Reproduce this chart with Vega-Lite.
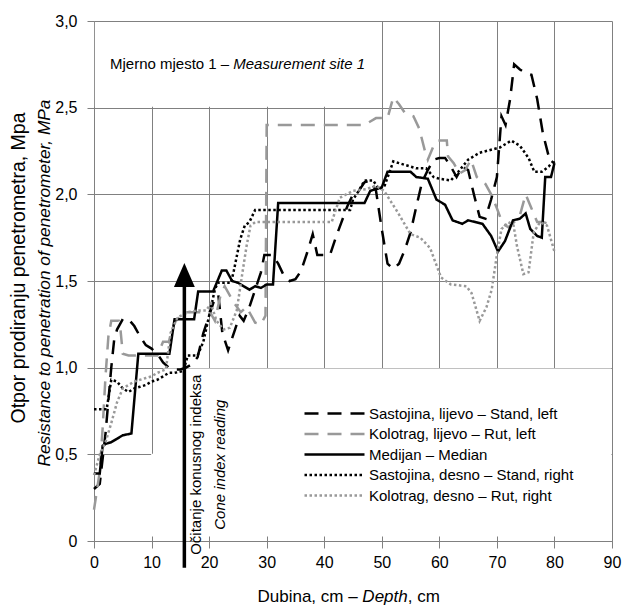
{
  "$schema": "https://vega.github.io/schema/vega-lite/v6.json",
  "width": 518,
  "height": 520,
  "autosize": {"type": "none"},
  "padding": {"left": 94, "top": 21, "right": 11, "bottom": 65},
  "background": "white",
  "config": {"font": "Liberation Sans", "view": {"stroke": null}},
  "datasets": {
    "curves": [
      {"s":"Sastojina, lijevo – Stand, left","x":0,"y":0.3},{"s":"Sastojina, lijevo – Stand, left","x":1,"y":0.33},{"s":"Sastojina, lijevo – Stand, left","x":2,"y":0.62},{"s":"Sastojina, lijevo – Stand, left","x":3,"y":1.0},{"s":"Sastojina, lijevo – Stand, left","x":3.5,"y":1.16},{"s":"Sastojina, lijevo – Stand, left","x":4,"y":1.22},{"s":"Sastojina, lijevo – Stand, left","x":5,"y":1.28},{"s":"Sastojina, lijevo – Stand, left","x":6,"y":1.28},{"s":"Sastojina, lijevo – Stand, left","x":7,"y":1.24},{"s":"Sastojina, lijevo – Stand, left","x":8,"y":1.18},{"s":"Sastojina, lijevo – Stand, left","x":9,"y":1.13},{"s":"Sastojina, lijevo – Stand, left","x":10,"y":1.11},{"s":"Sastojina, lijevo – Stand, left","x":11,"y":1.08},{"s":"Sastojina, lijevo – Stand, left","x":12,"y":1.03},{"s":"Sastojina, lijevo – Stand, left","x":13,"y":1.0},{"s":"Sastojina, lijevo – Stand, left","x":14,"y":0.99},{"s":"Sastojina, lijevo – Stand, left","x":15,"y":0.99},{"s":"Sastojina, lijevo – Stand, left","x":16,"y":1.0},{"s":"Sastojina, lijevo – Stand, left","x":17,"y":1.02},{"s":"Sastojina, lijevo – Stand, left","x":18,"y":1.06},{"s":"Sastojina, lijevo – Stand, left","x":19,"y":1.2},{"s":"Sastojina, lijevo – Stand, left","x":20,"y":1.3},{"s":"Sastojina, lijevo – Stand, left","x":21,"y":1.4},{"s":"Sastojina, lijevo – Stand, left","x":21.6,"y":1.42},{"s":"Sastojina, lijevo – Stand, left","x":22.3,"y":1.2},{"s":"Sastojina, lijevo – Stand, left","x":23.3,"y":1.1},{"s":"Sastojina, lijevo – Stand, left","x":24.5,"y":1.22},{"s":"Sastojina, lijevo – Stand, left","x":25.3,"y":1.3},{"s":"Sastojina, lijevo – Stand, left","x":26,"y":1.27},{"s":"Sastojina, lijevo – Stand, left","x":27,"y":1.35},{"s":"Sastojina, lijevo – Stand, left","x":28,"y":1.45},{"s":"Sastojina, lijevo – Stand, left","x":29,"y":1.55},{"s":"Sastojina, lijevo – Stand, left","x":29.6,"y":1.65},{"s":"Sastojina, lijevo – Stand, left","x":31,"y":1.65},{"s":"Sastojina, lijevo – Stand, left","x":32,"y":1.6},{"s":"Sastojina, lijevo – Stand, left","x":33,"y":1.53},{"s":"Sastojina, lijevo – Stand, left","x":34,"y":1.5},{"s":"Sastojina, lijevo – Stand, left","x":35,"y":1.51},{"s":"Sastojina, lijevo – Stand, left","x":36,"y":1.56},{"s":"Sastojina, lijevo – Stand, left","x":37,"y":1.66},{"s":"Sastojina, lijevo – Stand, left","x":38,"y":1.77},{"s":"Sastojina, lijevo – Stand, left","x":38.8,"y":1.65},{"s":"Sastojina, lijevo – Stand, left","x":41,"y":1.65},{"s":"Sastojina, lijevo – Stand, left","x":42,"y":1.75},{"s":"Sastojina, lijevo – Stand, left","x":43,"y":1.84},{"s":"Sastojina, lijevo – Stand, left","x":44,"y":1.93},{"s":"Sastojina, lijevo – Stand, left","x":45,"y":2.0},{"s":"Sastojina, lijevo – Stand, left","x":46,"y":2.02},{"s":"Sastojina, lijevo – Stand, left","x":47,"y":2.07},{"s":"Sastojina, lijevo – Stand, left","x":48,"y":2.08},{"s":"Sastojina, lijevo – Stand, left","x":49,"y":2.02},{"s":"Sastojina, lijevo – Stand, left","x":50,"y":1.8},{"s":"Sastojina, lijevo – Stand, left","x":51,"y":1.6},{"s":"Sastojina, lijevo – Stand, left","x":52,"y":1.57},{"s":"Sastojina, lijevo – Stand, left","x":53,"y":1.6},{"s":"Sastojina, lijevo – Stand, left","x":54,"y":1.68},{"s":"Sastojina, lijevo – Stand, left","x":55,"y":1.78},{"s":"Sastojina, lijevo – Stand, left","x":56,"y":1.93},{"s":"Sastojina, lijevo – Stand, left","x":57,"y":2.07},{"s":"Sastojina, lijevo – Stand, left","x":58,"y":2.14},{"s":"Sastojina, lijevo – Stand, left","x":59,"y":2.2},{"s":"Sastojina, lijevo – Stand, left","x":60,"y":2.21},{"s":"Sastojina, lijevo – Stand, left","x":61,"y":2.21},{"s":"Sastojina, lijevo – Stand, left","x":62,"y":2.16},{"s":"Sastojina, lijevo – Stand, left","x":63,"y":2.1},{"s":"Sastojina, lijevo – Stand, left","x":64,"y":2.16},{"s":"Sastojina, lijevo – Stand, left","x":65,"y":2.14},{"s":"Sastojina, lijevo – Stand, left","x":66,"y":2.0},{"s":"Sastojina, lijevo – Stand, left","x":67,"y":1.87},{"s":"Sastojina, lijevo – Stand, left","x":68,"y":1.86},{"s":"Sastojina, lijevo – Stand, left","x":69,"y":1.97},{"s":"Sastojina, lijevo – Stand, left","x":70,"y":2.1},{"s":"Sastojina, lijevo – Stand, left","x":70.8,"y":2.45},{"s":"Sastojina, lijevo – Stand, left","x":71.5,"y":2.4},{"s":"Sastojina, lijevo – Stand, left","x":72.3,"y":2.55},{"s":"Sastojina, lijevo – Stand, left","x":73,"y":2.75},{"s":"Sastojina, lijevo – Stand, left","x":74,"y":2.72},{"s":"Sastojina, lijevo – Stand, left","x":75,"y":2.7},{"s":"Sastojina, lijevo – Stand, left","x":76,"y":2.69},{"s":"Sastojina, lijevo – Stand, left","x":77,"y":2.55},{"s":"Sastojina, lijevo – Stand, left","x":78,"y":2.35},{"s":"Sastojina, lijevo – Stand, left","x":79,"y":2.22},{"s":"Sastojina, lijevo – Stand, left","x":80,"y":2.18},
      {"s":"Kolotrag, lijevo – Rut, left","x":0,"y":0.18},{"s":"Kolotrag, lijevo – Rut, left","x":1,"y":0.4},{"s":"Kolotrag, lijevo – Rut, left","x":1.5,"y":0.65},{"s":"Kolotrag, lijevo – Rut, left","x":2,"y":0.95},{"s":"Kolotrag, lijevo – Rut, left","x":2.5,"y":1.18},{"s":"Kolotrag, lijevo – Rut, left","x":3,"y":1.27},{"s":"Kolotrag, lijevo – Rut, left","x":4.3,"y":1.27},{"s":"Kolotrag, lijevo – Rut, left","x":4.6,"y":1.22},{"s":"Kolotrag, lijevo – Rut, left","x":5,"y":1.08},{"s":"Kolotrag, lijevo – Rut, left","x":6,"y":1.07},{"s":"Kolotrag, lijevo – Rut, left","x":11,"y":1.07},{"s":"Kolotrag, lijevo – Rut, left","x":12,"y":1.15},{"s":"Kolotrag, lijevo – Rut, left","x":13,"y":1.15},{"s":"Kolotrag, lijevo – Rut, left","x":14,"y":1.26},{"s":"Kolotrag, lijevo – Rut, left","x":15,"y":1.3},{"s":"Kolotrag, lijevo – Rut, left","x":16,"y":1.32},{"s":"Kolotrag, lijevo – Rut, left","x":19,"y":1.32},{"s":"Kolotrag, lijevo – Rut, left","x":20,"y":1.33},{"s":"Kolotrag, lijevo – Rut, left","x":21,"y":1.27},{"s":"Kolotrag, lijevo – Rut, left","x":22,"y":1.42},{"s":"Kolotrag, lijevo – Rut, left","x":22.7,"y":1.47},{"s":"Kolotrag, lijevo – Rut, left","x":24.4,"y":1.37},{"s":"Kolotrag, lijevo – Rut, left","x":25.5,"y":1.32},{"s":"Kolotrag, lijevo – Rut, left","x":26.5,"y":1.35},{"s":"Kolotrag, lijevo – Rut, left","x":28,"y":1.26},{"s":"Kolotrag, lijevo – Rut, left","x":29,"y":1.25},{"s":"Kolotrag, lijevo – Rut, left","x":29.8,"y":1.3},{"s":"Kolotrag, lijevo – Rut, left","x":30,"y":2.4},{"s":"Kolotrag, lijevo – Rut, left","x":47,"y":2.4},{"s":"Kolotrag, lijevo – Rut, left","x":48,"y":2.42},{"s":"Kolotrag, lijevo – Rut, left","x":49,"y":2.44},{"s":"Kolotrag, lijevo – Rut, left","x":51,"y":2.44},{"s":"Kolotrag, lijevo – Rut, left","x":52,"y":2.56},{"s":"Kolotrag, lijevo – Rut, left","x":53,"y":2.52},{"s":"Kolotrag, lijevo – Rut, left","x":54,"y":2.47},{"s":"Kolotrag, lijevo – Rut, left","x":55.5,"y":2.45},{"s":"Kolotrag, lijevo – Rut, left","x":56.5,"y":2.38},{"s":"Kolotrag, lijevo – Rut, left","x":57.5,"y":2.25},{"s":"Kolotrag, lijevo – Rut, left","x":58,"y":2.2},{"s":"Kolotrag, lijevo – Rut, left","x":59,"y":2.28},{"s":"Kolotrag, lijevo – Rut, left","x":59.8,"y":2.31},{"s":"Kolotrag, lijevo – Rut, left","x":61.3,"y":2.31},{"s":"Kolotrag, lijevo – Rut, left","x":61.5,"y":2.22},{"s":"Kolotrag, lijevo – Rut, left","x":62.5,"y":2.18},{"s":"Kolotrag, lijevo – Rut, left","x":63.5,"y":2.12},{"s":"Kolotrag, lijevo – Rut, left","x":64.5,"y":2.14},{"s":"Kolotrag, lijevo – Rut, left","x":65.5,"y":2.2},{"s":"Kolotrag, lijevo – Rut, left","x":66.5,"y":2.1},{"s":"Kolotrag, lijevo – Rut, left","x":68,"y":2.06},{"s":"Kolotrag, lijevo – Rut, left","x":69,"y":2.0},{"s":"Kolotrag, lijevo – Rut, left","x":70,"y":1.92},{"s":"Kolotrag, lijevo – Rut, left","x":71,"y":1.83},{"s":"Kolotrag, lijevo – Rut, left","x":72,"y":1.81},{"s":"Kolotrag, lijevo – Rut, left","x":73,"y":1.84},{"s":"Kolotrag, lijevo – Rut, left","x":74,"y":1.88},{"s":"Kolotrag, lijevo – Rut, left","x":75,"y":2.0},{"s":"Kolotrag, lijevo – Rut, left","x":76,"y":1.92},{"s":"Kolotrag, lijevo – Rut, left","x":77,"y":1.84},{"s":"Kolotrag, lijevo – Rut, left","x":78,"y":1.84},{"s":"Kolotrag, lijevo – Rut, left","x":79,"y":1.83},{"s":"Kolotrag, lijevo – Rut, left","x":80,"y":1.82},
      {"s":"Medijan – Median","x":0,"y":0.39},{"s":"Medijan – Median","x":1,"y":0.39},{"s":"Medijan – Median","x":1.5,"y":0.55},{"s":"Medijan – Median","x":2,"y":0.56},{"s":"Medijan – Median","x":3,"y":0.57},{"s":"Medijan – Median","x":4,"y":0.59},{"s":"Medijan – Median","x":5,"y":0.61},{"s":"Medijan – Median","x":6.5,"y":0.62},{"s":"Medijan – Median","x":7.7,"y":1.08},{"s":"Medijan – Median","x":13.1,"y":1.08},{"s":"Medijan – Median","x":14,"y":1.28},{"s":"Medijan – Median","x":17.4,"y":1.28},{"s":"Medijan – Median","x":18.1,"y":1.44},{"s":"Medijan – Median","x":20.7,"y":1.44},{"s":"Medijan – Median","x":22.2,"y":1.56},{"s":"Medijan – Median","x":23,"y":1.56},{"s":"Medijan – Median","x":24,"y":1.5},{"s":"Medijan – Median","x":25,"y":1.49},{"s":"Medijan – Median","x":26,"y":1.47},{"s":"Medijan – Median","x":27,"y":1.45},{"s":"Medijan – Median","x":28,"y":1.47},{"s":"Medijan – Median","x":29,"y":1.46},{"s":"Medijan – Median","x":30,"y":1.48},{"s":"Medijan – Median","x":31.1,"y":1.48},{"s":"Medijan – Median","x":32,"y":1.95},{"s":"Medijan – Median","x":47,"y":1.95},{"s":"Medijan – Median","x":48,"y":2.02},{"s":"Medijan – Median","x":49,"y":2.03},{"s":"Medijan – Median","x":50,"y":2.04},{"s":"Medijan – Median","x":51,"y":2.13},{"s":"Medijan – Median","x":55,"y":2.13},{"s":"Medijan – Median","x":56,"y":2.1},{"s":"Medijan – Median","x":58,"y":2.09},{"s":"Medijan – Median","x":59.5,"y":1.97},{"s":"Medijan – Median","x":61,"y":1.94},{"s":"Medijan – Median","x":62.3,"y":1.85},{"s":"Medijan – Median","x":64,"y":1.83},{"s":"Medijan – Median","x":65,"y":1.85},{"s":"Medijan – Median","x":67.5,"y":1.83},{"s":"Medijan – Median","x":69,"y":1.76},{"s":"Medijan – Median","x":70.2,"y":1.67},{"s":"Medijan – Median","x":71.4,"y":1.73},{"s":"Medijan – Median","x":72.8,"y":1.85},{"s":"Medijan – Median","x":74,"y":1.86},{"s":"Medijan – Median","x":75,"y":1.89},{"s":"Medijan – Median","x":75.8,"y":1.8},{"s":"Medijan – Median","x":77,"y":1.76},{"s":"Medijan – Median","x":77.8,"y":1.75},{"s":"Medijan – Median","x":78.4,"y":2.1},{"s":"Medijan – Median","x":79.4,"y":2.1},{"s":"Medijan – Median","x":80,"y":2.18},
      {"s":"Sastojina, desno – Stand, right","x":0,"y":0.76},{"s":"Sastojina, desno – Stand, right","x":2.2,"y":0.76},{"s":"Sastojina, desno – Stand, right","x":3,"y":0.93},{"s":"Sastojina, desno – Stand, right","x":4,"y":0.92},{"s":"Sastojina, desno – Stand, right","x":5,"y":0.88},{"s":"Sastojina, desno – Stand, right","x":6,"y":0.86},{"s":"Sastojina, desno – Stand, right","x":7,"y":0.88},{"s":"Sastojina, desno – Stand, right","x":8,"y":0.89},{"s":"Sastojina, desno – Stand, right","x":9,"y":0.9},{"s":"Sastojina, desno – Stand, right","x":10,"y":0.92},{"s":"Sastojina, desno – Stand, right","x":11,"y":0.93},{"s":"Sastojina, desno – Stand, right","x":12,"y":0.95},{"s":"Sastojina, desno – Stand, right","x":13,"y":0.97},{"s":"Sastojina, desno – Stand, right","x":14,"y":0.97},{"s":"Sastojina, desno – Stand, right","x":15.5,"y":0.98},{"s":"Sastojina, desno – Stand, right","x":16.3,"y":1.07},{"s":"Sastojina, desno – Stand, right","x":18,"y":1.07},{"s":"Sastojina, desno – Stand, right","x":19,"y":1.15},{"s":"Sastojina, desno – Stand, right","x":20,"y":1.3},{"s":"Sastojina, desno – Stand, right","x":21,"y":1.45},{"s":"Sastojina, desno – Stand, right","x":21.5,"y":1.49},{"s":"Sastojina, desno – Stand, right","x":23.8,"y":1.49},{"s":"Sastojina, desno – Stand, right","x":24.3,"y":1.56},{"s":"Sastojina, desno – Stand, right","x":25.4,"y":1.74},{"s":"Sastojina, desno – Stand, right","x":26.2,"y":1.82},{"s":"Sastojina, desno – Stand, right","x":27,"y":1.84},{"s":"Sastojina, desno – Stand, right","x":28,"y":1.91},{"s":"Sastojina, desno – Stand, right","x":44.5,"y":1.91},{"s":"Sastojina, desno – Stand, right","x":45,"y":1.97},{"s":"Sastojina, desno – Stand, right","x":46,"y":2.02},{"s":"Sastojina, desno – Stand, right","x":47,"y":2.08},{"s":"Sastojina, desno – Stand, right","x":48.5,"y":2.08},{"s":"Sastojina, desno – Stand, right","x":49.5,"y":2.03},{"s":"Sastojina, desno – Stand, right","x":50.5,"y":2.05},{"s":"Sastojina, desno – Stand, right","x":52,"y":2.19},{"s":"Sastojina, desno – Stand, right","x":54,"y":2.17},{"s":"Sastojina, desno – Stand, right","x":56,"y":2.15},{"s":"Sastojina, desno – Stand, right","x":57.7,"y":2.15},{"s":"Sastojina, desno – Stand, right","x":59,"y":2.1},{"s":"Sastojina, desno – Stand, right","x":60,"y":2.09},{"s":"Sastojina, desno – Stand, right","x":62,"y":2.08},{"s":"Sastojina, desno – Stand, right","x":63.3,"y":2.13},{"s":"Sastojina, desno – Stand, right","x":65,"y":2.2},{"s":"Sastojina, desno – Stand, right","x":67,"y":2.24},{"s":"Sastojina, desno – Stand, right","x":70.5,"y":2.27},{"s":"Sastojina, desno – Stand, right","x":72.5,"y":2.31},{"s":"Sastojina, desno – Stand, right","x":74,"y":2.28},{"s":"Sastojina, desno – Stand, right","x":75.5,"y":2.21},{"s":"Sastojina, desno – Stand, right","x":76.5,"y":2.13},{"s":"Sastojina, desno – Stand, right","x":77.8,"y":2.13},{"s":"Sastojina, desno – Stand, right","x":79,"y":2.16},{"s":"Sastojina, desno – Stand, right","x":80,"y":2.2},
      {"s":"Kolotrag, desno – Rut, right","x":0,"y":0.38},{"s":"Kolotrag, desno – Rut, right","x":1,"y":0.5},{"s":"Kolotrag, desno – Rut, right","x":2,"y":0.57},{"s":"Kolotrag, desno – Rut, right","x":3,"y":0.68},{"s":"Kolotrag, desno – Rut, right","x":4,"y":0.8},{"s":"Kolotrag, desno – Rut, right","x":5,"y":0.88},{"s":"Kolotrag, desno – Rut, right","x":6,"y":0.9},{"s":"Kolotrag, desno – Rut, right","x":7,"y":0.92},{"s":"Kolotrag, desno – Rut, right","x":8,"y":0.93},{"s":"Kolotrag, desno – Rut, right","x":9,"y":0.94},{"s":"Kolotrag, desno – Rut, right","x":10,"y":0.95},{"s":"Kolotrag, desno – Rut, right","x":11,"y":0.97},{"s":"Kolotrag, desno – Rut, right","x":12.5,"y":0.99},{"s":"Kolotrag, desno – Rut, right","x":13.3,"y":1.2},{"s":"Kolotrag, desno – Rut, right","x":14.5,"y":1.29},{"s":"Kolotrag, desno – Rut, right","x":16.3,"y":1.32},{"s":"Kolotrag, desno – Rut, right","x":18,"y":1.33},{"s":"Kolotrag, desno – Rut, right","x":19.5,"y":1.33},{"s":"Kolotrag, desno – Rut, right","x":20.3,"y":1.37},{"s":"Kolotrag, desno – Rut, right","x":21.3,"y":1.27},{"s":"Kolotrag, desno – Rut, right","x":22.5,"y":1.22},{"s":"Kolotrag, desno – Rut, right","x":23.6,"y":1.23},{"s":"Kolotrag, desno – Rut, right","x":24.8,"y":1.33},{"s":"Kolotrag, desno – Rut, right","x":25.8,"y":1.55},{"s":"Kolotrag, desno – Rut, right","x":26.5,"y":1.7},{"s":"Kolotrag, desno – Rut, right","x":27.2,"y":1.82},{"s":"Kolotrag, desno – Rut, right","x":28,"y":1.84},{"s":"Kolotrag, desno – Rut, right","x":41.3,"y":1.84},{"s":"Kolotrag, desno – Rut, right","x":42.7,"y":1.98},{"s":"Kolotrag, desno – Rut, right","x":45,"y":2.02},{"s":"Kolotrag, desno – Rut, right","x":47.3,"y":2.03},{"s":"Kolotrag, desno – Rut, right","x":49,"y":2.05},{"s":"Kolotrag, desno – Rut, right","x":50.4,"y":2.02},{"s":"Kolotrag, desno – Rut, right","x":52.7,"y":1.9},{"s":"Kolotrag, desno – Rut, right","x":55,"y":1.77},{"s":"Kolotrag, desno – Rut, right","x":56.7,"y":1.75},{"s":"Kolotrag, desno – Rut, right","x":58.4,"y":1.69},{"s":"Kolotrag, desno – Rut, right","x":60.3,"y":1.52},{"s":"Kolotrag, desno – Rut, right","x":62,"y":1.48},{"s":"Kolotrag, desno – Rut, right","x":64.7,"y":1.47},{"s":"Kolotrag, desno – Rut, right","x":65.6,"y":1.43},{"s":"Kolotrag, desno – Rut, right","x":67,"y":1.27},{"s":"Kolotrag, desno – Rut, right","x":68.2,"y":1.35},{"s":"Kolotrag, desno – Rut, right","x":69.1,"y":1.45},{"s":"Kolotrag, desno – Rut, right","x":70,"y":1.65},{"s":"Kolotrag, desno – Rut, right","x":70.8,"y":1.8},{"s":"Kolotrag, desno – Rut, right","x":72,"y":1.84},{"s":"Kolotrag, desno – Rut, right","x":72.9,"y":1.82},{"s":"Kolotrag, desno – Rut, right","x":73.5,"y":1.7},{"s":"Kolotrag, desno – Rut, right","x":74.6,"y":1.54},{"s":"Kolotrag, desno – Rut, right","x":75.5,"y":1.55},{"s":"Kolotrag, desno – Rut, right","x":76.4,"y":1.78},{"s":"Kolotrag, desno – Rut, right","x":77.5,"y":1.84},{"s":"Kolotrag, desno – Rut, right","x":78.7,"y":1.82},{"s":"Kolotrag, desno – Rut, right","x":80,"y":1.67}
    ]
  },
  "layer": [
    {
      "data": {"values": [{}]},
      "mark": {"type": "rect", "color": "white"},
      "encoding": {
        "x": {"datum": 9.93, "type": "quantitative", "scale": {"domain": [0, 90], "nice": false}, "axis": null},
        "x2": {"datum": 89.9},
        "y": {"datum": 0.004, "type": "quantitative", "scale": {"domain": [0, 3], "nice": false}, "axis": null},
        "y2": {"datum": 0.503}
      }
    },
    {
      "data": {"values": [{}]},
      "mark": {"type": "rect", "color": "white"},
      "encoding": {
        "x": {"datum": 12, "type": "quantitative", "scale": {"domain": [0, 90], "nice": false}, "axis": null},
        "x2": {"datum": 89.9},
        "y": {"datum": 0.5, "type": "quantitative", "scale": {"domain": [0, 3], "nice": false}, "axis": null},
        "y2": {"datum": 0.995}
      }
    },
    {
      "data": {"values": [{}]},
      "mark": {"type": "rect", "color": "white"},
      "encoding": {
        "x": {"datum": 0.15, "type": "quantitative", "scale": {"domain": [0, 90], "nice": false}, "axis": null},
        "x2": {"datum": 45},
        "y": {"datum": 2.505, "type": "quantitative", "scale": {"domain": [0, 3], "nice": false}, "axis": null},
        "y2": {"datum": 2.994}
      }
    },
    {
      "data": {"name": "curves"},
      "mark": {"type": "line", "strokeWidth": 2.5, "strokeCap": "butt"},
      "encoding": {
        "x": {
          "field": "x", "type": "quantitative",
          "scale": {"domain": [0, 90], "nice": false},
          "axis": {
            "orient": "bottom", "values": [0, 10, 20, 30, 40, 50, 60, 70, 80, 90],
            "grid": true, "gridColor": "#808080", "gridWidth": 1,
            "domainColor": "#808080", "tickColor": "#808080", "tickSize": 7,
            "labelFontSize": 16, "labelColor": "#000000", "labelPadding": 6, "labelFlush": false,
            "title": "Dubina, cm – ", "titleX": 163, "titleY": 60, "titleAlign": "left", "titleBaseline": "alphabetic",
            "titleFontSize": 17, "titleFontWeight": "normal", "titleColor": "#000000"
          }
        },
        "y": {
          "field": "y", "type": "quantitative",
          "scale": {"domain": [0, 3], "nice": false},
          "axis": {
            "orient": "left", "values": [0, 0.5, 1, 1.5, 2, 2.5, 3],
            "labelExpr": "datum.value === 0 ? '0' : replace(format(datum.value, '.1f'), '.', ',')",
            "grid": true, "gridColor": "#808080", "gridWidth": 1,
            "domainColor": "#808080", "tickColor": "#808080", "tickSize": 7,
            "labelFontSize": 16, "labelColor": "#000000", "labelPadding": 10, "labelFlush": false,
            "title": "Resistance to penetration of penetrometer, MPa", "titleFontStyle": "italic",
            "titleX": -50, "titleY": 261.5, "titleAngle": 270, "titleAlign": "center", "titleBaseline": "middle",
            "titleFontSize": 17.3, "titleFontWeight": "normal", "titleColor": "#000000"
          }
        },
        "color": {
          "field": "s", "type": "nominal",
          "scale": {
            "domain": ["Sastojina, lijevo – Stand, left", "Kolotrag, lijevo – Rut, left", "Medijan – Median", "Sastojina, desno – Stand, right", "Kolotrag, desno – Rut, right"],
            "range": ["#000000", "#999999", "#000000", "#000000", "#999999"]
          },
          "legend": {
            "orient": "none", "legendX": 229, "legendY": 381, "title": null,
            "symbolType": "M-3,0L3,0", "symbolSize": 400, "symbolStrokeWidth": 2.5, "symbolFillColor": "transparent",
            "labelFontSize": 15, "labelColor": "#000000", "labelOffset": 23, "labelLimit": 400,
            "rowPadding": 0.5, "padding": 0
          }
        },
        "strokeDash": {
          "field": "s", "type": "nominal",
          "scale": {
            "domain": ["Sastojina, lijevo – Stand, left", "Kolotrag, lijevo – Rut, left", "Medijan – Median", "Sastojina, desno – Stand, right", "Kolotrag, desno – Rut, right"],
            "range": [[14, 9], [14, 9], [1, 0], [2.5, 2.5], [2.5, 2.5]]
          },
          "legend": {
            "orient": "none", "legendX": 229, "legendY": 381, "title": null,
            "symbolType": "M-3,0L3,0", "symbolSize": 400, "symbolStrokeWidth": 2.5, "symbolFillColor": "transparent",
            "labelFontSize": 15, "labelColor": "#000000", "labelOffset": 23, "labelLimit": 400,
            "rowPadding": 0.5, "padding": 0
          }
        }
      }
    },
    {
      "data": {"values": [{}]},
      "mark": {"type": "rule", "color": "#000000", "strokeWidth": 3.5},
      "encoding": {
        "x": {"datum": 15.7, "type": "quantitative", "scale": {"domain": [0, 90], "nice": false}, "axis": null},
        "y": {"datum": -0.155, "type": "quantitative", "scale": {"domain": [0, 3], "nice": false}, "axis": null},
        "y2": {"datum": 1.47}
      }
    },
    {
      "data": {"values": [{}]},
      "mark": {"type": "point", "shape": "M0,-1L0.87,1L-0.87,1Z", "size": 576, "filled": true, "color": "#000000", "opacity": 1},
      "encoding": {
        "x": {"datum": 15.7, "type": "quantitative", "scale": {"domain": [0, 90], "nice": false}, "axis": null},
        "y": {"datum": 1.535, "type": "quantitative", "scale": {"domain": [0, 3], "nice": false}, "axis": null}
      }
    },
    {
      "data": {"values": [{"t": "Očitanje konusnog indeksa"}]},
      "mark": {"type": "text", "angle": 270, "align": "center", "baseline": "middle", "fontSize": 15, "color": "#000000"},
      "encoding": {
        "x": {"datum": 17.72, "type": "quantitative", "scale": {"domain": [0, 90], "nice": false}, "axis": null},
        "y": {"datum": 0.44, "type": "quantitative", "scale": {"domain": [0, 3], "nice": false}, "axis": null},
        "text": {"field": "t"}
      }
    },
    {
      "data": {"values": [{"t": "Cone index reading"}]},
      "mark": {"type": "text", "angle": 270, "align": "center", "baseline": "middle", "fontSize": 15, "fontStyle": "italic", "color": "#000000"},
      "encoding": {
        "x": {"datum": 21.9, "type": "quantitative", "scale": {"domain": [0, 90], "nice": false}, "axis": null},
        "y": {"datum": 0.44, "type": "quantitative", "scale": {"domain": [0, 3], "nice": false}, "axis": null},
        "text": {"field": "t"}
      }
    },
    {
      "data": {"values": [{"t": "Mjerno mjesto 1 – "}]},
      "mark": {"type": "text", "align": "left", "baseline": "middle", "fontSize": 15, "color": "#000000"},
      "encoding": {
        "x": {"datum": 2.78, "type": "quantitative", "scale": {"domain": [0, 90], "nice": false}, "axis": null},
        "y": {"datum": 2.75, "type": "quantitative", "scale": {"domain": [0, 3], "nice": false}, "axis": null},
        "text": {"field": "t"}
      }
    },
    {
      "data": {"values": [{"t": "Measurement site 1"}]},
      "mark": {"type": "text", "align": "left", "baseline": "middle", "fontSize": 15, "fontStyle": "italic", "color": "#000000"},
      "encoding": {
        "x": {"datum": 24.2, "type": "quantitative", "scale": {"domain": [0, 90], "nice": false}, "axis": null},
        "y": {"datum": 2.75, "type": "quantitative", "scale": {"domain": [0, 3], "nice": false}, "axis": null},
        "text": {"field": "t"}
      }
    },
    {
      "data": {"values": [{}]},
      "mark": {"type": "point", "opacity": 0},
      "encoding": {
        "x": {"datum": 0, "type": "quantitative", "scale": {"domain": [0, 90], "nice": false},
          "axis": {"orient": "bottom", "labels": false, "ticks": false, "domain": false, "grid": false,
            "title": "Depth", "titleFontStyle": "italic", "titleX": 267.85, "titleY": 60, "titleAlign": "left", "titleBaseline": "alphabetic",
            "titleFontSize": 17, "titleFontWeight": "normal", "titleColor": "#000000"}},
        "y": {"datum": 0, "type": "quantitative", "scale": {"domain": [0, 3], "nice": false},
          "axis": {"orient": "left", "labels": false, "ticks": false, "domain": false, "grid": false,
            "title": "Otpor prodiranju penetrometra, Mpa",
            "titleX": -76, "titleY": 246.5, "titleAngle": 270, "titleAlign": "center", "titleBaseline": "middle",
            "titleFontSize": 19.5, "titleFontWeight": "normal", "titleColor": "#000000"}}
      }
    },
    {
      "data": {"values": [{}]},
      "mark": {"type": "point", "opacity": 0},
      "encoding": {
        "x": {"datum": 0, "type": "quantitative", "scale": {"domain": [0, 90], "nice": false},
          "axis": {"orient": "bottom", "labels": false, "ticks": false, "domain": false, "grid": false,
            "title": ", cm", "titleX": 313.2, "titleY": 60, "titleAlign": "left", "titleBaseline": "alphabetic",
            "titleFontSize": 17, "titleFontWeight": "normal", "titleColor": "#000000"}}
      }
    },
    {
      "data": {"values": [{}]},
      "mark": {"type": "point", "opacity": 0},
      "encoding": {
        "x": {"datum": 0, "type": "quantitative", "scale": {"domain": [0, 90], "nice": false},
          "axis": {"orient": "bottom", "values": [0, 10, 20, 30, 40, 50, 60, 70, 80, 90], "labels": false, "ticks": true, "tickSize": -5,
            "tickColor": "#808080", "domain": false, "grid": false, "title": null, "zindex": 1}}
      }
    }
  ],
  "resolve": {"axis": {"x": "independent", "y": "independent"}}
}
